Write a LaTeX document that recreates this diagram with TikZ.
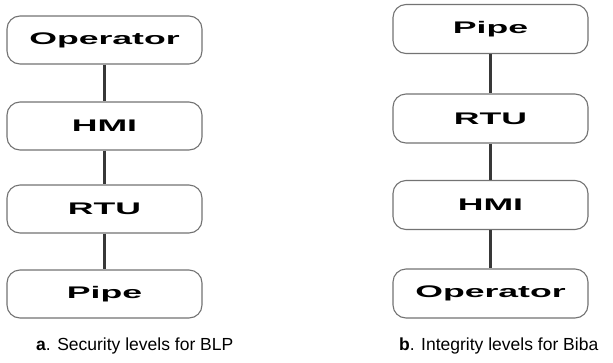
\documentclass[tikz,border=0pt]{standalone}
\usepackage{fontspec}
\setmainfont{Liberation Sans}
\begin{document}
\begin{tikzpicture}[x=1pt,y=-1pt,
  lvl/.style={draw=black!55, line width=1.1pt, rounded corners=13pt, fill=white,
    minimum width=195pt, minimum height=48pt, inner sep=0pt,
    font=\fontsize{16.8}{18}\selectfont\bfseries},
  link/.style={draw=black!78, line width=2.2pt},
  captxt/.style={anchor=base west, inner sep=0pt, font=\fontsize{17.5}{20}\selectfont}]
\useasboundingbox (0,0) rectangle (613,362);
\newcommand{\wide}[1]{\scalebox{2.12}[1]{#1}}
% left column
\node[lvl] (lop)  at (104.5,40)  {\wide{Operator}};
\node[lvl] (lhmi) at (104.5,126) {\wide{HMI}};
\node[lvl] (lrtu) at (104.5,209) {\wide{RTU}};
\node[lvl] (lpipe) at (104.5,294) {\wide{Pipe}};
\draw[link] (lop) -- (lhmi);
\draw[link] (lhmi) -- (lrtu);
\draw[link] (lrtu) -- (lpipe);
% right column
\node[lvl, minimum height=49pt] (rpipe) at (490.5,29)    {\wide{Pipe}};
\node[lvl, minimum height=49pt] (rrtu)  at (490.5,118.5) {\wide{RTU}};
\node[lvl, minimum height=49pt] (rhmi)  at (490.5,205)   {\wide{HMI}};
\node[lvl, minimum height=49pt] (rop)   at (490.5,293.5) {\wide{Operator}};
\draw[link] (rpipe) -- (rrtu);
\draw[link] (rrtu) -- (rhmi);
\draw[link] (rhmi) -- (rop);
% captions
\node[captxt] (capa) at (36,350) {\textbf{a}. Security levels for BLP};
\node[captxt] (capb) at (399,350) {\textbf{b}. Integrity levels for Biba};
\end{tikzpicture}
\end{document}
